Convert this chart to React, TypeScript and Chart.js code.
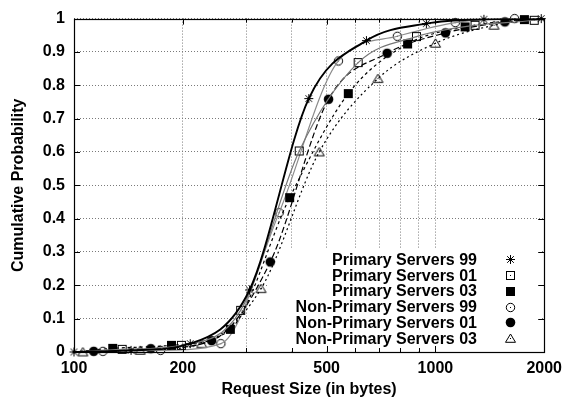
import React, { useEffect, useRef } from "react";
import { Chart, registerables } from "chart.js";

Chart.register(...registerables);

// ---- data -----------------------------------------------------------------
const seriesNames = [
  "Primary Servers 99",
  "Primary Servers 01",
  "Primary Servers 03",
  "Non-Primary Servers 99",
  "Non-Primary Servers 01",
  "Non-Primary Servers 03",
];

// request size (bytes) / cumulative probability at the marked samples
const primary99Size = [100, 143.8, 209.7, 306, 446.3, 644.2, 943.8, 1362, 1962];
const primary99Prob = [0, 0.005, 0.025, 0.186, 0.76, 0.934, 0.985, 0.998, 1.0];

const primary01Size = [135.9, 198.2, 289.1, 420, 611.3, 886.2, 1287, 1877];
const primary01Prob = [0.008, 0.02, 0.125, 0.603, 0.868, 0.946, 0.98, 0.995];

const primary03Size = [128, 186.1, 270.8, 395.1, 574.1, 837.5, 1208, 1763];
const primary03Prob = [0.011, 0.02, 0.068, 0.463, 0.775, 0.924, 0.975, 0.997];

const nonPrimary99Size = [120.2, 173.6, 254.9, 369.5, 539, 784.6, 1135, 1656];
const nonPrimary99Prob = [0.002, 0.005, 0.025, 0.418, 0.873, 0.947, 0.988, 1.0];

const nonPrimary01Size = [113.4, 163.1, 240.3, 349.2, 506.1, 735.3, 1066, 1557];
const nonPrimary01Prob = [0.002, 0.01, 0.034, 0.27, 0.758, 0.896, 0.957, 0.99];

const nonPrimary03Size = [105.8, 152.4, 225.6, 329.2, 477, 693.4, 1000.6, 1453];
const nonPrimary03Prob = [0, 0.005, 0.025, 0.19, 0.6, 0.82, 0.926, 0.98];

// every curve runs from the smallest to the largest request size
const curveStart = [100, 0];
const curveEnd = [2000, 1];

const seriesSizes = [primary99Size, primary01Size, primary03Size, nonPrimary99Size, nonPrimary01Size, nonPrimary03Size];
const seriesProbs = [primary99Prob, primary01Prob, primary03Prob, nonPrimary99Prob, nonPrimary01Prob, nonPrimary03Prob];

// axis ticks
const sizeGrid = [100, 200, 300, 400, 500, 600, 700, 800, 900, 1000, 2000];
const sizeLabels = [100, 200, 500, 1000, 2000];
const probTicks = [0, 0.1, 0.2, 0.3, 0.4, 0.5, 0.6, 0.7, 0.8, 0.9, 1];

// ---- styles ---------------------------------------------------------------
const FONT = "'Liberation Sans', Arial, Helvetica, sans-serif";
const FONT_SIZE = 16;

type MarkerKind = "asterisk" | "openSquare" | "filledSquare" | "openCircle" | "filledCircle" | "openTriangle";

const seriesStyles: { color: string; width: number; dash: number[]; marker: MarkerKind }[] = [
  { color: "#000000", width: 1.9, dash: [], marker: "asterisk" },
  { color: "#777777", width: 1.2, dash: [], marker: "openSquare" },
  { color: "#000000", width: 1.2, dash: [3, 3], marker: "filledSquare" },
  { color: "#8c8c8c", width: 1.2, dash: [], marker: "openCircle" },
  { color: "#000000", width: 1.2, dash: [6, 3], marker: "filledCircle" },
  { color: "#000000", width: 1.2, dash: [2, 3], marker: "openTriangle" },
];

function makeMarker(kind: MarkerKind): HTMLCanvasElement {
  const c = document.createElement("canvas");
  c.width = 13;
  c.height = 13;
  const g = c.getContext("2d")!;
  const m = 6.5;
  g.strokeStyle = "#000";
  g.fillStyle = "#000";
  g.lineWidth = 1;
  const dot = () => g.fillRect(6, 6, 1, 1);
  switch (kind) {
    case "asterisk":
      g.beginPath();
      g.moveTo(m - 4.5, m);
      g.lineTo(m + 4.5, m);
      g.moveTo(m, m - 4.5);
      g.lineTo(m, m + 4.5);
      g.moveTo(m - 3.3, m - 3.3);
      g.lineTo(m + 3.3, m + 3.3);
      g.moveTo(m - 3.3, m + 3.3);
      g.lineTo(m + 3.3, m - 3.3);
      g.stroke();
      break;
    case "openSquare":
      g.strokeRect(2.5, 2.5, 8, 8);
      dot();
      break;
    case "filledSquare":
      g.fillRect(2, 2, 9, 9);
      break;
    case "openCircle":
      g.beginPath();
      g.arc(m, m, 4.2, 0, Math.PI * 2);
      g.stroke();
      dot();
      break;
    case "filledCircle":
      g.beginPath();
      g.arc(m, m, 4.8, 0, Math.PI * 2);
      g.fill();
      break;
    case "openTriangle":
      g.beginPath();
      g.moveTo(m, m - 4.5);
      g.lineTo(m + 5, m + 3.8);
      g.lineTo(m - 5, m + 3.8);
      g.closePath();
      g.stroke();
      dot();
      break;
  }
  return c;
}

// white key panel in the lower right of the plot
const keyBox = { left: 268, top: 248, right: 541, bottom: 351 };
const keyTextRight = 477;
const keyMarkerX = 510;
const keyFirstRow = 259.5;
const keyRowStep = 15.86;

export default function App() {
  const canvasRef = useRef<HTMLCanvasElement | null>(null);

  useEffect(() => {
    const canvas = canvasRef.current;
    if (!canvas) return;

    const markers = seriesStyles.map((s) => makeMarker(s.marker));

    const datasets: any[] = [];
    seriesNames.forEach((name, i) => {
      const pts = seriesSizes[i].map((x, k) => ({ x, y: seriesProbs[i][k] }));
      const curve = [...pts];
      if (curve[0].x > curveStart[0]) curve.unshift({ x: curveStart[0], y: curveStart[1] });
      if (curve[curve.length - 1].x < curveEnd[0]) curve.push({ x: curveEnd[0], y: curveEnd[1] });
      const st = seriesStyles[i];
      datasets.push({
        label: name,
        data: curve,
        showLine: true,
        borderColor: st.color,
        borderWidth: st.width,
        borderDash: st.dash,
        cubicInterpolationMode: "monotone",
        pointRadius: 0,
        fill: false,
      });
      datasets.push({
        label: name + " points",
        data: pts,
        showLine: false,
        pointStyle: markers[i],
        pointRadius: 4,
        clip: false,
      });
    });

    const framePlugin = {
      id: "frame",
      beforeDatasetsDraw(chart: any) {
        const { ctx } = chart;
        ctx.save();
        ctx.fillStyle = "#ffffff";
        ctx.fillRect(keyBox.left, keyBox.top, keyBox.right - keyBox.left, keyBox.bottom - keyBox.top);
        ctx.restore();
      },
      afterDatasetsDraw(chart: any) {
        const { ctx, chartArea: a } = chart;
        const xs = chart.scales.x;
        const ys = chart.scales.y;
        ctx.save();
        ctx.strokeStyle = "#000";
        ctx.lineWidth = 1;
        // tick marks pointing into the plot
        ctx.beginPath();
        sizeGrid.forEach((v) => {
          const px = Math.round(xs.getPixelForValue(v)) + 0.5;
          const len = sizeLabels.includes(v) ? 6 : 4;
          ctx.moveTo(px, a.bottom);
          ctx.lineTo(px, a.bottom - len);
          ctx.moveTo(px, a.top);
          ctx.lineTo(px, a.top + len);
        });
        probTicks.forEach((v) => {
          const py = Math.round(ys.getPixelForValue(v)) + 0.5;
          ctx.moveTo(a.left, py);
          ctx.lineTo(a.left + 6, py);
          ctx.moveTo(a.right, py);
          ctx.lineTo(a.right - 6, py);
        });
        ctx.stroke();
        // plot frame
        ctx.lineWidth = 1.2;
        ctx.strokeRect(Math.round(a.left) + 0.5, Math.round(a.top) + 0.5, Math.round(a.right - a.left), Math.round(a.bottom - a.top));

        // key
        ctx.fillStyle = "#000";
        ctx.font = `bold ${FONT_SIZE}px ${FONT}`;
        ctx.textAlign = "right";
        ctx.textBaseline = "middle";
        seriesNames.forEach((name, i) => {
          const y = keyFirstRow + i * keyRowStep;
          ctx.fillText(name, keyTextRight, y + 0.8);
          const m = markers[i];
          ctx.drawImage(m, Math.round(keyMarkerX - m.width / 2), Math.round(y - m.height / 2));
        });
        ctx.restore();
      },
    };

    const tickFont = { family: FONT, size: FONT_SIZE, weight: "bold" as const };

    const chart = new Chart(canvas, {
      type: "scatter",
      data: { datasets },
      options: {
        animation: false,
        responsive: false,
        devicePixelRatio: 1,
        layout: { padding: { top: 15, right: 19, left: 0, bottom: 0 } },
        plugins: { legend: { display: false }, tooltip: { enabled: false } },
        scales: {
          x: {
            type: "logarithmic",
            min: 100,
            max: 2000,
            afterBuildTicks: (s: any) => {
              s.ticks = sizeGrid.map((v) => ({ value: v }));
            },
            afterFit: (s: any) => {
              s.height = 47;
            },
            ticks: {
              autoSkip: false,
              maxRotation: 0,
              padding: 7,
              color: "#000",
              font: tickFont,
              callback: (v: any) => (sizeLabels.includes(Number(v)) ? String(v) : ""),
            },
            grid: { color: "#7a7a7a", drawTicks: false, lineWidth: 1 },
            border: { display: false, dash: [1, 2] },
            title: {
              display: true,
              text: "Request Size (in bytes)",
              color: "#000",
              font: tickFont,
              padding: { top: 3, bottom: 0 },
            },
          },
          y: {
            type: "linear",
            min: 0,
            max: 1,
            afterBuildTicks: (s: any) => {
              s.ticks = probTicks.map((v) => ({ value: v }));
            },
            afterFit: (s: any) => {
              s.width = 74;
            },
            ticks: {
              padding: 9,
              color: "#000",
              font: tickFont,
              callback: (v: any) => String(Math.round(Number(v) * 10) / 10),
            },
            grid: { color: "#7a7a7a", drawTicks: false, lineWidth: 1 },
            border: { display: false, dash: [1, 2] },
            title: {
              display: true,
              text: "Cumulative Probability",
              color: "#000",
              font: tickFont,
              padding: { top: 9, bottom: 0 },
            },
          },
        },
      },
      plugins: [framePlugin],
    });

    return () => chart.destroy();
  }, []);

  return (
    <div style={{ position: "absolute", left: 0, top: 0, width: 569, height: 399, background: "#fff" }}>
      <canvas ref={canvasRef} width={569} height={399} style={{ display: "block" }} />
    </div>
  );
}
